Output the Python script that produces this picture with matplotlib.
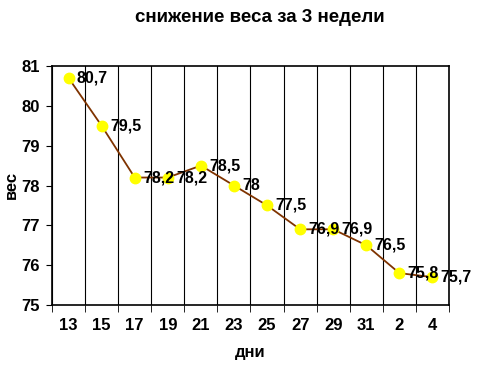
import matplotlib.pyplot as plt
import numpy as np

plt.rcParams['font.family'] = ['Liberation Sans', 'DejaVu Sans']
plt.rcParams['font.weight'] = 'bold'

# Data
days = ["13", "15", "17", "19", "21", "23", "25", "27", "29", "31", "2", "4"]
weight = [80.7, 79.5, 78.2, 78.2, 78.5, 78.0, 77.5, 76.9, 76.9, 76.5, 75.8, 75.7]
labels = ["80,7", "79,5", "78,2", "78,2", "78,5", "78", "77,5", "76,9", "76,9", "76,5", "75,8", "75,7"]

fig = plt.figure(figsize=(4.8, 3.66), dpi=100)
ax = fig.add_axes([52 / 480, 1 - 305 / 366, 397 / 480, 239 / 366])

x = np.arange(len(days))
ax.plot(x, weight, color="#7F3300", linewidth=1.3, zorder=2)
ax.plot(x, weight, linestyle="none", marker="o", markersize=7.5,
        markerfacecolor="#FFFF00", markeredgecolor="#FFFF00", zorder=3)

for xi, yi, lab in zip(x, weight, labels):
    ax.annotate(lab, (xi, yi), xytext=(6, 0), textcoords="offset points",
                ha="left", va="center", fontsize=11.5, fontweight="bold",
                annotation_clip=False, zorder=4)

ax.set_xlim(-0.5, len(days) - 0.5)
ax.set_ylim(75, 81)
ax.set_xticks(x)
ax.set_xticklabels(days)
ax.set_xticks(np.arange(-0.5, len(days)), minor=True)
ax.set_yticks(np.arange(75, 82, 1))

ax.grid(True, which="minor", axis="x", color="black", linewidth=0.8)
ax.tick_params(axis="x", which="major", length=0, labelsize=12, pad=9)
ax.tick_params(axis="x", which="minor", length=5, direction="out")
ax.tick_params(axis="y", length=4, direction="out", labelsize=12, pad=5)

for s in ax.spines.values():
    s.set_linewidth(1.2)
    s.set_color("black")

fig.text(260 / 480, 1 - 18 / 366, "снижение веса за 3 недели", ha="center", va="center",
         fontsize=13.5, fontweight="bold")
fig.text(11 / 480, 1 - 185 / 366, "вес", rotation=90, ha="center", va="center",
         fontsize=12, fontweight="bold")
fig.text(250 / 480, 1 - 353 / 366, "дни", ha="center", va="center",
         fontsize=12, fontweight="bold")

fig.savefig("out.png", dpi=100)
